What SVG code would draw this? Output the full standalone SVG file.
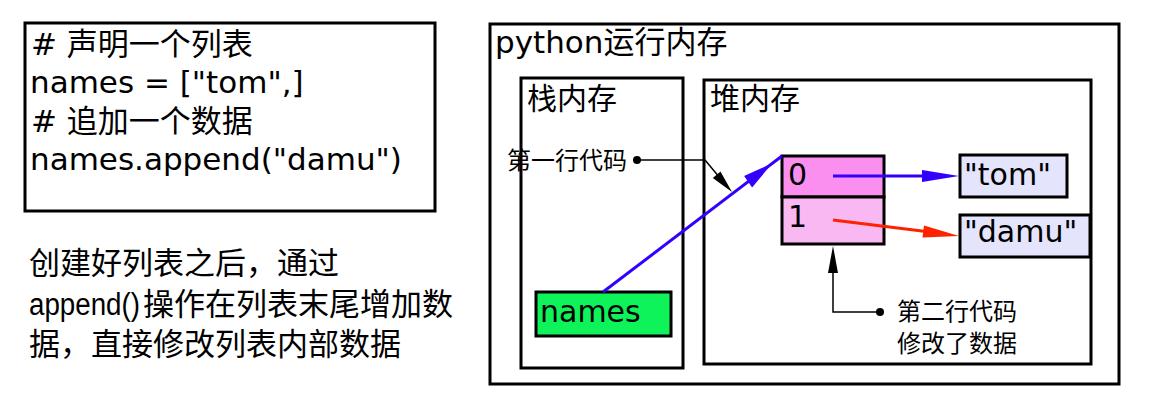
<svg xmlns="http://www.w3.org/2000/svg" width="1156" height="409" viewBox="0 0 1156 409">
<style>
.box{fill:#fff;stroke:#000;stroke-width:3}
.t{font-family:"DejaVu Sans","Noto Sans CJK SC",sans-serif;font-size:30px;fill:#000}
.code{font-size:31px}
.cn{font-family:"Noto Sans CJK SC",sans-serif;fill:#000}
.p{font-family:"Liberation Sans","Noto Sans CJK SC",sans-serif;font-size:31px;fill:#000}
.blue{stroke:#3300ff;stroke-width:3;fill:none}
.red{stroke:#ff2200;stroke-width:3;fill:none}
.blk{stroke:#000;stroke-width:1.5;fill:none}
</style>
<rect width="1156" height="409" fill="#fff"/>
<g id="code">
<rect class="box" x="25" y="23" width="410" height="188"/>
<text class="t code" x="31" y="55"># 声明一个列表</text>
<text class="t code" x="30" y="93">names = ["tom",]</text>
<text class="t code" x="31" y="132"># 追加一个数据</text>
<text class="t code" x="30" y="170">names.append("damu")</text>
</g>
<g id="note">
<text class="p" x="29" y="274">创建好列表之后，通过</text>
<text class="p" x="29" y="315" font-size="29" textLength="111" lengthAdjust="spacingAndGlyphs">append()</text>
<text class="p" x="143" y="315">操作在列表末尾增加数</text>
<text class="p" x="29" y="355">据，直接修改列表内部数据</text>
</g>
<g id="memory">
<rect class="box" x="490" y="24" width="629" height="360"/>
<text class="t code" x="495" y="53">python运行内存</text>
</g>
<g id="stack">
<rect class="box" x="521" y="78" width="162" height="290"/>
<text class="t" x="527" y="109">栈内存</text>
</g>
<g id="heap">
<rect class="box" x="704" y="80" width="387" height="284"/>
<text class="t" x="710" y="109">堆内存</text>
</g>
<g id="names">
<rect x="536" y="292" width="135" height="44" fill="#0ef35a" stroke="#000" stroke-width="3"/>
<text class="t" x="540" y="322">names</text>
</g>
<g id="list">
<rect x="782" y="156" width="102" height="41" fill="#fb8ff0" stroke="#000" stroke-width="3"/>
<rect x="782" y="197" width="102" height="47" fill="#fab8f3" stroke="#000" stroke-width="3"/>
<text class="t" x="788" y="185">0</text>
<text class="t" x="788" y="227">1</text>
</g>
<g id="tom">
<rect x="960" y="155" width="107" height="42" fill="#e4e4fc" stroke="#000" stroke-width="3"/>
<text class="t" x="964" y="185">"tom"</text>
</g>
<g id="damu">
<rect x="960" y="215" width="130" height="42" fill="#e4e4fc" stroke="#000" stroke-width="3"/>
<text class="t" x="964" y="242">"damu"</text>
</g>
<g id="label1">
<text class="cn" font-size="24" x="507" y="169">第一行代码</text>
</g>
<g id="label2">
<text class="cn" font-size="24" x="897" y="320">第二行代码</text>
<text class="cn" font-size="24" x="897" y="352">修改了数据</text>
</g>
<g id="connectors">
<line class="blue" x1="603" y1="292" x2="782" y2="156"/>
<polygon fill="#3300ff" points="772,163.5 752.1,187.5 744.1,176.1"/>
<line class="blue" x1="833" y1="176" x2="930" y2="176"/>
<polygon fill="#3300ff" points="959,176 922,170 922,182"/>
<line class="red" x1="833" y1="220" x2="930" y2="232"/>
<polygon fill="#ff2200" points="959,236 922.5,237.5 924,225.5"/>
<polyline class="blk" points="637,160 705,160 725,184"/>
<polygon fill="#000" points="732,192 712.8,178 720.5,171.5"/>
<circle cx="637" cy="160" r="4" fill="#000"/>
<polyline class="blk" points="880,312 833,312 833,270"/>
<polygon fill="#000" points="833,246 838,273 828,273"/>
<circle cx="880" cy="312" r="4" fill="#000"/>
</g>
</svg>
